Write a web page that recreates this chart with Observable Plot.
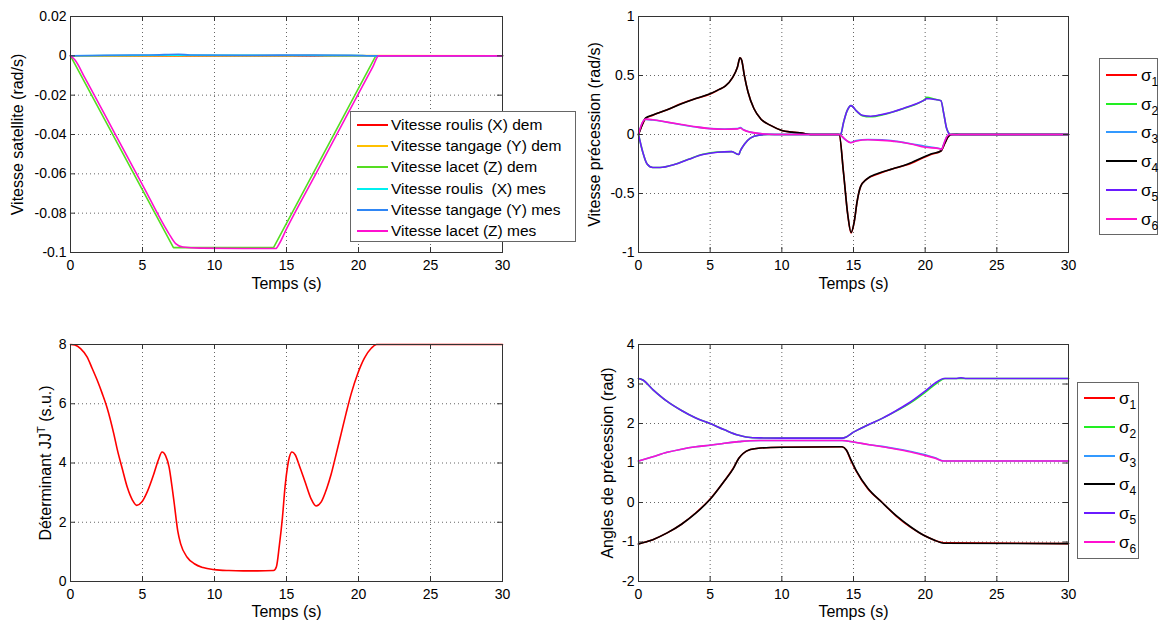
<!DOCTYPE html>
<html><head><meta charset="utf-8">
<script src="https://cdn.jsdelivr.net/npm/d3@7"></script>
<script src="https://cdn.jsdelivr.net/npm/@observablehq/plot@0.6"></script>
<style>
body{margin:0;background:#fff;font-family:"Liberation Sans",Arial,sans-serif;}
#wrap{position:relative;width:1159px;height:622px;overflow:hidden;background:#fff;}
.panel{position:absolute;}
.legend{position:absolute;background:#fff;border:1px solid #666;box-sizing:border-box;color:#000;}
.legend .sw{position:absolute;height:0;border-top:2px solid;}
.legend .lb{position:absolute;transform:translateY(-50%);line-height:1;white-space:pre;}
.legend sub{font-size:12px;vertical-align:-5px;line-height:0;}
</style></head>
<body><div id="wrap"></div>
<script>
// ---------- tick values & labels ----------
const tempsTicks = [0, 5, 10, 15, 20, 25, 30];
const satTicks = [-0.1, -0.08, -0.06, -0.04, -0.02, 0, 0.02];
const precVelTicks = [-1, -0.5, 0, 0.5, 1];
const detTicks = [0, 2, 4, 6, 8];
const angTicks = [-2, -1, 0, 1, 2, 3, 4];

const labelTemps = "Temps (s)";
const labelSat = "Vitesse satellite (rad/s)";
const labelPrecVel = "Vitesse précession (rad/s)";
const labelDet = "Déterminant JJT (s.u.)";
const labelAng = "Angles de précession (rad)";

// ---------- panel 1 : satellite velocity [t, value] ----------
const roulisDem = [[0, 0], [30, 0]];
const tangageDem = [[0, 0], [15, 0.0001], [16.8, 0.0003], [18, 0.0001], [30, 0]];
const lacetDem = [[0, 0], [7.15, -0.0975], [14.1, -0.0975], [21.2, 0], [30, 0]];
const roulisMes = [[0, 0], [3, 0.0002], [7, 0.0003], [14, 0.0002], [20, 0.0001], [21.2, 0], [30, 0]];
const tangageMes = [[0, 0], [1.5, 0.0002], [4.3, 0.0004], [5.5, 0.0004], [7.5, 0.0008], [8.3, 0.0004], [12, 0.0003], [16.8, 0.0004], [19.5, 0.0003], [21.2, 0], [30, 0]];
const lacetMes = [[0, 0], [0.3, -0.002], [1, -0.0112], [3, -0.0384], [5, -0.0656], [6.8, -0.09], [7.3, -0.0955], [7.8, -0.0972], [9, -0.0978], [12, -0.098], [14.25, -0.098], [14.5, -0.0955], [15, -0.088], [17, -0.0605], [19, -0.033], [21, -0.0055], [21.4, 0], [30, 0]];
const satNames = ["Vitesse roulis (X) dem", "Vitesse tangage (Y) dem", "Vitesse lacet (Z) dem", "Vitesse roulis  (X) mes", "Vitesse tangage (Y) mes", "Vitesse lacet (Z) mes"];
const satColors = ["#ff0000", "#ffc000", "#55dd22", "#00f0f0", "#2f86f5", "#ff10d0"];

// ---------- panel 2 : precession velocity ----------
const pv4 = [[0, 0], [0.25, 0.08], [0.5, 0.14], [1, 0.165], [2, 0.21], [3, 0.26], [4, 0.305], [5, 0.345], [5.6, 0.38], [6.05, 0.41], [6.55, 0.48], [6.9, 0.57], [7.08, 0.65], [7.2, 0.63], [7.37, 0.51], [7.64, 0.36], [8.05, 0.22], [8.55, 0.13], [9.25, 0.075], [10, 0.034], [10.7, 0.02], [11.4, 0.012], [12, 0], [14.0, 0], [14.3, -0.32], [14.6, -0.68], [14.83, -0.83], [15.05, -0.74], [15.25, -0.57], [15.5, -0.44], [15.9, -0.38], [16.7, -0.33], [17.75, -0.29], [18.8, -0.25], [19.9, -0.19], [20.4, -0.165], [21.1, -0.14], [21.35, -0.08], [21.6, -0.02], [21.85, 0], [30, 0]];
const pv1 = [[0, 0], [0.25, 0.08], [0.5, 0.135], [1, 0.163], [2, 0.21], [3, 0.262], [4, 0.305], [5, 0.343], [5.6, 0.38], [6.05, 0.41], [6.55, 0.48], [6.9, 0.57], [7.08, 0.65], [7.2, 0.63], [7.37, 0.51], [7.64, 0.36], [8.05, 0.22], [8.55, 0.13], [9.25, 0.075], [10, 0.034], [10.7, 0.02], [11.4, 0.012], [12, 0], [14.0, 0], [14.3, -0.32], [14.6, -0.68], [14.83, -0.835], [15.05, -0.74], [15.25, -0.57], [15.5, -0.44], [15.9, -0.38], [16.7, -0.335], [17.75, -0.29], [18.8, -0.255], [19.9, -0.195], [20.4, -0.17], [21.1, -0.14], [21.35, -0.08], [21.6, -0.02], [21.85, 0], [30, 0]];
const pv5 = [[0, 0], [0.3, -0.15], [0.6, -0.25], [1, -0.28], [1.5, -0.28], [2.5, -0.255], [3.5, -0.21], [4.5, -0.17], [5.5, -0.15], [6.5, -0.145], [7.0, -0.17], [7.1, -0.14], [7.4, -0.08], [7.8, -0.03], [8.4, -0.005], [9, 0], [14.1, 0], [14.3, 0.1], [14.55, 0.2], [14.83, 0.245], [15.2, 0.2], [15.6, 0.163], [16.2, 0.155], [17.2, 0.175], [18.55, 0.225], [19.6, 0.272], [20.0, 0.296], [20.1, 0.305], [20.7, 0.296], [21.1, 0.287], [21.3, 0.175], [21.5, 0.05], [21.75, 0], [30, 0]];
const pv2 = [[0, 0], [0.3, -0.15], [0.6, -0.25], [1, -0.28], [1.5, -0.28], [2.5, -0.255], [3.5, -0.21], [4.5, -0.168], [5.5, -0.148], [6.5, -0.145], [7.0, -0.17], [7.1, -0.14], [7.4, -0.08], [7.8, -0.03], [8.4, -0.005], [9, 0], [14.1, 0], [14.3, 0.1], [14.55, 0.2], [14.83, 0.245], [15.2, 0.2], [15.6, 0.16], [16.2, 0.15], [17.2, 0.172], [18.55, 0.222], [19.6, 0.27], [20.0, 0.3], [20.1, 0.315], [20.7, 0.298], [21.1, 0.287], [21.3, 0.175], [21.5, 0.05], [21.8, 0], [22.2, 0.005], [22.5, 0], [30, 0]];
const pv6 = [[0, 0], [0.2, 0.08], [0.5, 0.13], [1, 0.125], [2, 0.105], [3, 0.085], [4, 0.065], [5, 0.05], [6, 0.045], [6.9, 0.048], [7.1, 0.055], [7.3, 0.04], [7.8, 0.02], [8.5, 0.008], [9.5, 0], [14.0, 0], [14.4, -0.04], [14.8, -0.07], [15.2, -0.055], [16, -0.045], [17, -0.05], [18, -0.06], [19, -0.08], [20, -0.108], [21, -0.12], [21.15, -0.127], [21.3, -0.08], [21.5, -0.02], [21.7, 0], [30, 0]];
const pv3 = [[0, 0], [0.2, 0.08], [0.5, 0.128], [1, 0.123], [2, 0.104], [3, 0.083], [4, 0.064], [5, 0.05], [6, 0.046], [6.9, 0.05], [7.1, 0.058], [7.3, 0.042], [7.8, 0.02], [8.5, 0.008], [9.5, 0], [14.0, 0], [14.4, -0.04], [14.8, -0.068], [15.2, -0.052], [16, -0.043], [17, -0.045], [18, -0.058], [19, -0.078], [20, -0.1], [21, -0.118], [21.15, -0.125], [21.3, -0.08], [21.5, -0.02], [21.7, 0], [30, 0]];
const sigmaColors = ["#ff0000", "#22ee22", "#3399ff", "#000000", "#6a1bff", "#ff10d0"];
const sigmaSubs = ["1", "2", "3", "4", "5", "6"];

// ---------- panel 3 : determinant ----------
const detJJT = [[0, 8], [0.3, 7.98], [0.7, 7.86], [1.15, 7.58], [1.5, 7.2], [1.85, 6.8], [2.2, 6.35], [2.55, 5.85], [3, 5.0], [3.25, 4.45], [3.6, 3.8], [3.95, 3.17], [4.3, 2.75], [4.6, 2.57], [4.95, 2.68], [5.35, 3.05], [5.8, 3.65], [6.1, 4.1], [6.36, 4.37], [6.6, 4.25], [6.85, 3.85], [7.05, 3.2], [7.2, 2.65], [7.45, 1.7], [7.65, 1.27], [8.1, 0.82], [8.6, 0.6], [9.2, 0.47], [10, 0.4], [11, 0.37], [12, 0.36], [13, 0.36], [14.1, 0.37], [14.3, 0.5], [14.5, 1.2], [14.72, 2.17], [14.9, 3.2], [15.08, 3.9], [15.2, 4.2], [15.38, 4.37], [15.6, 4.28], [15.9, 3.9], [16.3, 3.35], [16.7, 2.8], [17.05, 2.55], [17.4, 2.68], [17.8, 3.15], [18.1, 3.62], [18.45, 4.3], [18.8, 5.0], [19.15, 5.7], [19.5, 6.35], [19.95, 7.02], [20.4, 7.53], [20.9, 7.88], [21.25, 8], [30, 8]];

// ---------- panel 4 : precession angles ----------
const ang5 = [[0, 3.14], [0.3, 3.1], [1, 2.86], [2, 2.56], [3, 2.33], [4, 2.14], [5, 2.0], [6, 1.84], [7, 1.7], [7.5, 1.66], [8.5, 1.635], [10, 1.63], [14.2, 1.63], [14.5, 1.66], [15, 1.78], [16, 1.96], [17, 2.13], [18, 2.33], [19, 2.55], [20, 2.82], [20.8, 3.05], [21.3, 3.14], [22.2, 3.14], [22.5, 3.16], [22.8, 3.14], [30, 3.14]];
const ang2 = [[0, 3.14], [0.3, 3.1], [1, 2.86], [2, 2.56], [3, 2.33], [4, 2.14], [5, 2.0], [6, 1.84], [7, 1.7], [7.5, 1.66], [8.5, 1.635], [10, 1.63], [14.2, 1.63], [14.5, 1.66], [15, 1.78], [16, 1.96], [17, 2.13], [18, 2.32], [19, 2.53], [20, 2.79], [20.8, 3.02], [21.4, 3.14], [30, 3.14]];
const ang6 = [[0, 1.05], [1, 1.16], [2, 1.27], [3, 1.35], [4, 1.41], [5, 1.45], [6, 1.5], [7, 1.54], [7.8, 1.565], [8.5, 1.57], [14.2, 1.57], [15, 1.53], [16, 1.47], [17, 1.41], [18, 1.35], [19, 1.28], [20, 1.19], [20.7, 1.12], [21.3, 1.05], [30, 1.05]];
const ang3 = [[0, 1.05], [1, 1.16], [2, 1.27], [3, 1.35], [4, 1.41], [5, 1.45], [6, 1.5], [7, 1.54], [7.8, 1.565], [8.5, 1.57], [14.2, 1.57], [15, 1.53], [16, 1.47], [17, 1.42], [18, 1.36], [19, 1.29], [20, 1.21], [20.7, 1.13], [21.3, 1.05], [30, 1.05]];
const ang4 = [[0, -1.05], [0.5, -1.0], [1, -0.94], [2, -0.77], [3, -0.55], [4, -0.27], [5, 0.08], [6, 0.55], [6.6, 0.85], [7, 1.12], [7.3, 1.24], [7.8, 1.34], [8.5, 1.38], [10, 1.4], [14.2, 1.41], [14.5, 1.33], [14.8, 1.1], [15.2, 0.8], [16, 0.36], [17, 0], [18, -0.34], [19, -0.62], [20, -0.85], [20.7, -0.96], [21.3, -1.03], [30, -1.04]];
const ang1 = [[0, -1.05], [0.5, -1.0], [1, -0.94], [2, -0.77], [3, -0.55], [4, -0.26], [5, 0.09], [6, 0.55], [6.6, 0.86], [7, 1.12], [7.3, 1.24], [7.8, 1.34], [8.5, 1.38], [10, 1.4], [14.2, 1.41], [14.5, 1.33], [14.8, 1.08], [15.2, 0.79], [16, 0.35], [17, 0], [18, -0.35], [19, -0.63], [20, -0.85], [20.7, -0.96], [21.4, -1.02], [30, -1.04]];

// ---------- drawing ----------
const FONT = '"Liberation Sans", Arial, sans-serif';
const fmt = d => String(d);

function panel({left, top, width, height, mL, mR, mT, mB, yDomain, yTicks, series, yLabel, yLabelDx, xLabelDy}) {
  const FW = width - mL - mR, FH = height - mT - mB;
  const grid = {stroke: "#555", strokeOpacity: 0.9, strokeDasharray: "1,3", strokeWidth: 1};
  const tk = {stroke: "#333", strokeWidth: 1};
  const svg = Plot.plot({
    width, height, marginLeft: mL, marginRight: mR, marginTop: mT, marginBottom: mB,
    x: {domain: [0, 30]},
    y: {domain: yDomain},
    style: {fontFamily: FONT, color: "#000", background: "transparent", overflow: "visible"},
    marks: [
      Plot.ruleX(tempsTicks, {x: d => d, ...grid}),
      Plot.ruleY(yTicks, {y: d => d, ...grid}),
      ...series.map(s => Plot.line(s.data, {x: d => d[0], y: d => d[1], stroke: s.color, strokeWidth: 1.6, curve: s.curve || "monotone-x"})),
      Plot.frame({stroke: "#333", strokeWidth: 1}),
      Plot.tickX(tempsTicks, {x: d => d, insetTop: FH - 5, ...tk}),
      Plot.tickX(tempsTicks, {x: d => d, insetBottom: FH - 5, ...tk}),
      Plot.tickY(yTicks, {y: d => d, insetRight: FW - 5, ...tk}),
      Plot.tickY(yTicks, {y: d => d, insetLeft: FW - 5, ...tk}),
      Plot.axisX({ticks: tempsTicks, tickSize: 0, tickPadding: 8, fontSize: 14, label: null, tickFormat: fmt}),
      Plot.axisY({ticks: yTicks, tickSize: 0, tickPadding: 4, fontSize: 14, label: null, tickFormat: fmt}),
      Plot.text([labelTemps], {text: d => d, frameAnchor: "bottom", dy: xLabelDy, textAnchor: "middle", lineAnchor: "middle", fontSize: 16, fill: "#000"}),
      Plot.text([yLabel], {text: d => d, frameAnchor: "left", dx: yLabelDx, rotate: -90, textAnchor: "middle", lineAnchor: "middle", fontSize: 16, fill: "#000"})
    ]
  });
  const div = document.createElement("div");
  div.className = "panel";
  div.style.left = left + "px"; div.style.top = top + "px";
  div.appendChild(svg);
  document.getElementById("wrap").appendChild(div);
  return svg;
}

function legend({left, top, width, height, first, step, swL, swR, textX, items, fontSize}) {
  const box = document.createElement("div");
  box.className = "legend";
  Object.assign(box.style, {left: left + "px", top: top + "px", width: width + "px", height: height + "px"});
  items.forEach((it, i) => {
    const y = first + i * step;
    const sw = document.createElement("div");
    sw.className = "sw";
    Object.assign(sw.style, {left: swL + "px", width: (swR - swL) + "px", top: (y - 1) + "px", borderTopColor: it.color});
    box.appendChild(sw);
    const lb = document.createElement("div");
    lb.className = "lb";
    Object.assign(lb.style, {left: textX + "px", top: y + "px", fontSize: fontSize + "px"});
    if (it.sub) {
      lb.appendChild(document.createTextNode("σ"));
      const s = document.createElement("sub"); s.textContent = it.sub; lb.appendChild(s);
    } else lb.textContent = it.name;
    box.appendChild(lb);
  });
  document.getElementById("wrap").appendChild(box);
}

const satData = [roulisDem, tangageDem, lacetDem, roulisMes, tangageMes, lacetMes];
panel({left: 0, top: 0, width: 560, height: 300, mL: 70, mR: 58, mT: 16, mB: 48,
  yDomain: [-0.1, 0.02], yTicks: satTicks, yLabel: labelSat, yLabelDx: -53, xLabelDy: 31,
  series: satData.map((d, i) => ({data: d, color: satColors[i], curve: i === 2 ? "linear" : "monotone-x"}))});

const pvData = [pv1, pv2, pv3, pv4, pv5, pv6];
panel({left: 560, top: 0, width: 599, height: 300, mL: 78, mR: 91, mT: 16, mB: 48,
  yDomain: [-1, 1], yTicks: precVelTicks, yLabel: labelPrecVel, yLabelDx: -44, xLabelDy: 31,
  series: pvData.map((d, i) => ({data: d, color: sigmaColors[i]}))});

const detSvg = panel({left: 0, top: 300, width: 560, height: 322, mL: 70, mR: 58, mT: 44, mB: 41,
  yDomain: [0, 8], yTicks: detTicks, yLabel: labelDet, yLabelDx: -25, xLabelDy: 30,
  series: [{data: detJJT, color: "#ff0000"}]});

const angData = [ang1, ang2, ang3, ang4, ang5, ang6];
panel({left: 560, top: 300, width: 599, height: 322, mL: 78, mR: 91, mT: 44, mB: 41,
  yDomain: [-2, 4], yTicks: angTicks, yLabel: labelAng, yLabelDx: -31, xLabelDy: 30,
  series: angData.map((d, i) => ({data: d, color: sigmaColors[i]}))});

// superscript T in the determinant label
detSvg.querySelectorAll("text").forEach(t => {
  if (t.textContent === labelDet) {
    const ns = "http://www.w3.org/2000/svg";
    t.textContent = "";
    const a = document.createElementNS(ns, "tspan"); a.textContent = "Déterminant JJ";
    const b = document.createElementNS(ns, "tspan"); b.textContent = "T"; b.setAttribute("dy", "-6"); b.setAttribute("font-size", "11");
    const c = document.createElementNS(ns, "tspan"); c.textContent = " (s.u.)"; c.setAttribute("dy", "6");
    t.append(a, b, c);
  }
});

legend({left: 350, top: 111, width: 226, height: 131, first: 12.7, step: 21.3, swL: 6, swR: 37, textX: 40, fontSize: 15.5,
  items: satNames.map((n, i) => ({name: n, color: satColors[i]}))});
legend({left: 1099, top: 58, width: 59, height: 177, first: 16, step: 28.7, swL: 6, swR: 37, textX: 41, fontSize: 17,
  items: sigmaSubs.map((s, i) => ({sub: s, color: sigmaColors[i]}))});
legend({left: 1077, top: 382, width: 62, height: 177, first: 15, step: 28.8, swL: 6, swR: 37, textX: 41, fontSize: 17,
  items: sigmaSubs.map((s, i) => ({sub: s, color: sigmaColors[i]}))});
</script></body></html>
